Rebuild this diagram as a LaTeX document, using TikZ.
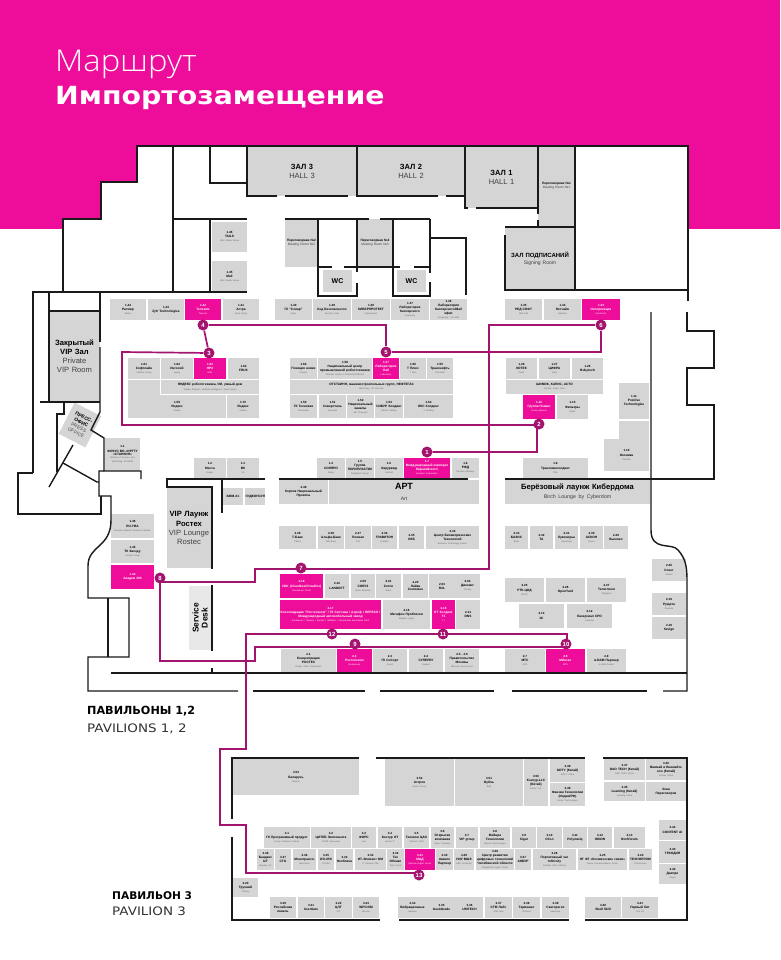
\documentclass[tikz,border=0pt]{standalone}
\usepackage{fontspec}
\setmainfont{Liberation Sans}
\newfontfamily\titlelight{Open Sans Light}
\newfontfamily\titlebold{DejaVu Sans}
\definecolor{brand}{HTML}{EE0C9A}
\definecolor{boothgrey}{HTML}{D5D5D5}
\definecolor{routecol}{HTML}{A3146F}
\definecolor{wallcol}{HTML}{1A1A1A}
\pgfdeclarelayer{routelayer}
\pgfdeclarelayer{toplayer}
\pgfsetlayers{main,routelayer,toplayer}
\tikzset{
  gbox/.style={fill=boothgrey,inner sep=0pt,outer sep=0pt,align=center,text=black},
  pbox/.style={fill=brand,inner sep=0pt,outer sep=0pt,align=center,text=white},
  wall/.style={draw=wallcol,line width=1.4pt,line join=miter},
  route/.style={draw=routecol,line width=1.7pt,line join=miter},
  stopdot/.style={circle,fill=routecol,text=white,inner sep=0pt,minimum size=11pt,font=\bfseries\fontsize{6}{6}\selectfont},
}
\newcommand\bnum{\bfseries\fontsize{3}{3.7}\selectfont}
\newcommand\bname{\bfseries\fontsize{3.2}{3.7}\selectfont}
\newcommand\bsub{\mdseries\fontsize{2.2}{2.8}\selectfont\color{.!60!white}}
% #1 style #2 node name #3-#6 x1 y1 x2 y2 #7 number #8 title #9 note
\newcommand\booth[9][gbox]{%
  \node[#1,font=\fontsize{3.2}{3.7}\selectfont,minimum width={(#5-#3)*1pt},minimum height={(#6-#4)*1pt},text width={(#5-#3-1)*1pt}]
    (#2) at ({(#3+#5)/2},{(#4+#6)/2})
    {\if\relax\detokenize{#7}\relax\else\bnum #7\\[0.4pt]\fi\bname #8\if\relax\detokenize{#9}\relax\else\\[0.4pt]\bsub #9\fi};}
% #1 node name #2-#5 x1 y1 x2 y2 #6 bold text #7 regular text #8 size
\newcommand\bighall[8]{%
  \pgfmathsetmacro\halllead{#8*1.2}%
  \node[gbox,font={\fontsize{#8}{\halllead}\selectfont},minimum width={(#4-#2)*1pt},minimum height={(#5-#3)*1pt},text width={(#4-#2-1)*1pt}]
    (#1) at ({(#2+#4)/2},{(#3+#5)/2})
    {\bfseries #6\\\mdseries\color{black!75} #7};}
\begin{document}
\begin{tikzpicture}[x=1pt,y=-1pt]
\useasboundingbox (0,0) rectangle (780,960);
\fill[white] (0,0) rectangle (780,960);
\fill[brand] (0,0) rectangle (780,229);
\fill[white] (63,229) -- (63,219) -- (101,219) -- (101,182) -- (137,182) -- (137,146) -- (688,146) -- (688,229) -- cycle;

% title
\node[anchor=base west,inner sep=0pt,text=white] (title1) at (55,72) {\scalebox{1.09}[1]{\titlelight\fontsize{30}{30}\selectfont Маршрут}};
\node[anchor=base west,inner sep=0pt,text=white] (title2) at (55,105) {\scalebox{1.134}[1]{\titlebold\bfseries\fontsize{25}{26}\selectfont Импортозамещение}};

% halls
\bighall{h3}{247}{146}{357}{196}{ЗАЛ 3}{HALL 3}{7.5}
\bighall{h2}{357}{146}{465}{196}{ЗАЛ 2}{HALL 2}{7.5}
\bighall{h1}{465}{146}{538}{208}{ЗАЛ 1}{HALL 1}{7.5}
\bighall{m1}{538}{146}{575}{226}{Переговорная №1}{Meeting Room №1}{3.2}
\bighall{sign}{505}{227}{575}{290}{ЗАЛ ПОДПИСАНИЙ}{\fontsize{5}{6.5}\selectfont Signing Room}{6}
\bighall{m2}{285}{219}{318}{267}{Переговорная №2}{Meeting Room №2}{3.2}
\bighall{m3}{357}{219}{393}{267}{Переговорная №3}{Meeting Room №3}{3.2}
\node[gbox,minimum width=29pt,minimum height=22pt,font=\bfseries\fontsize{7}{8}\selectfont] (wc1) at (337.5,281) {WC};
\node[gbox,minimum width=29pt,minimum height=22pt,font=\bfseries\fontsize{7}{8}\selectfont] (wc2) at (411.5,281) {WC};
\bighall{vipclosed}{49}{311}{100}{402}{Закрытый\\VIP Зал}{Private\\VIP Room}{7.6}
\bighall{viplounge}{167}{488}{211}{568}{VIP Лаунж\\Ростех}{VIP Lounge\\Rostec}{7.6}
\node[fill=black!9,inner sep=0pt,minimum width=22pt,minimum height=64pt] (sdesk) at (200,618) {};
\node[rotate=90,align=center,font=\bfseries\fontsize{8.4}{9}\selectfont] (sdesktxt) at (200,618) {Service\\Desk};
\node[gbox,rotate=-27,minimum width=30pt,minimum height=35pt,font=\fontsize{4.9}{5.8}\selectfont] (press) at (80,425)
  {\bfseries ПРЕСС-\\\bfseries ОФИС\\\mdseries\color{black!70} PRESS\\\mdseries\color{black!70} OFFICE};

% booths top-left
\booth{b146}{212}{222}{247}{252}{1.46}{TAILS}{VMK Media Group}
\booth{b145}{212}{261}{247}{292}{1.45}{Mail}{VMK Media Group}
\booth{b144}{110}{299}{146}{320}{1.44}{Ратмир}{Ratmir}
\booth{b143}{148}{299}{184}{320}{1.43}{Zyfr Technologies}{}
\booth[pbox]{b142}{185}{299}{221}{320}{1.42}{Телеком}{Telecom}
\booth{b141}{223}{299}{259}{320}{1.41}{Астра}{Astra Group}
\booth{b140}{275}{299}{312}{320}{1.40}{ГК "Солар"}{Solar}
\booth{b139}{313}{299}{351}{320}{1.39}{Код Безопасности}{Security Code}
\booth{b138}{352}{299}{390}{320}{1.38}{КИБЕРПРОТЕКТ}{Cyberprotect}
\booth{b137}{391}{299}{429}{320}{1.37}{Лаборатория\\Касперского}{Kaspersky}
\booth{b136}{430}{299}{467}{320}{1.36}{Лаборатория\\Касперского/Mail\\офис}{Kaspersky / VK Mail}
\booth{b135}{505}{299}{542}{320}{1.35}{РЕД СОФТ}{Red Soft}
\booth{b134}{544}{299}{581}{320}{1.34}{Нетчайн}{Netchain}
\booth[pbox]{b133}{582}{299}{620}{320}{1.33}{Интерлекция}{Interlection}

% block A
\booth{b161}{128}{358}{160}{379}{1.61}{Софтлайн}{Softline Group}
\booth{b162}{161}{358}{193}{379}{1.62}{Ингосий}{Ingosy}
\booth[pbox]{b163}{194}{358}{226}{379}{1.63}{НРЗ}{NRZ}
\booth{b164}{228}{358}{259}{379}{1.64}{FRUX}{}
\fill[boothgrey] (128,380) rectangle (160,395);
\booth{yan1}{161}{380}{259}{394}{}{ЯНДЕКС робототехника, ИИ, умный дом}{Yandex Robotics, Artificial Intelligence, Smart Home}
\booth{b159}{128}{395}{226}{418}{1.59}{Яндекс}{Yandex}
\booth{b170}{227}{395}{259}{418}{1.70}{Яндекс}{Yandex}

% block B
\booth{b160}{290}{358}{317}{379}{1.60}{Позиция новиз}{Position}
\booth{b158}{318}{358}{372}{379}{1.58}{Национальный центр\\промышленной робототехники}{National Center of Industrial Robotics}
\booth[pbox]{b157}{373}{358}{399}{379}{1.57}{Лаборатория\\Лаб}{Laboratory}
\booth{b156}{400}{358}{426}{379}{1.56}{Т Плюс}{T Plus}
\booth{b155}{427}{358}{453}{379}{1.55}{Транснефть}{Transneft}
\booth{otr}{290}{380}{453}{394}{}{ОТСТАИНН, машиностроительных групп, НЕФТЕГАЗ}{Machinery, Oil and Gas}
\booth{b150}{290}{395}{317}{418}{1.50}{ГК Техновек}{Technovek}
\booth{b151}{319}{395}{346}{418}{1.51}{Северсталь}{Severstal}
\booth{b152}{347}{395}{374}{418}{1.52}{Национальный\\каналы}{Net Channels}
\booth{b153}{375}{395}{403}{418}{1.53}{СИБУР Холдинг}{SIBUR Holding}
\booth{b154}{404}{395}{453}{418}{1.54}{ИКС Холдинг}{X Holding}

% block C
\booth{b128}{506}{358}{537}{379}{1.28}{КОТЕК}{Kotek}
\booth{b127}{539}{358}{570}{379}{1.27}{ЦИФРА}{Zyfra}
\booth{b126}{572}{358}{603}{379}{1.26}{Rubytech}{}
\booth{shim}{506}{380}{603}{394}{}{ШИМОК, КАПИС, АСТО}{Shimok, Kapis, Asto}
\booth[pbox]{b116}{523}{395}{555}{419}{1.16}{Группа Нэшнл}{Group National}
\booth{b115}{557}{395}{588}{419}{1.15}{Фильтры}{Filters}
\booth{b19}{523}{458}{588}{478}{1.9}{Трансмашхолдинг}{TMH}
\booth{b111}{619}{383}{649}{419}{1.11}{Positive\\Technologies}{}
\fill[boothgrey] (619,421) rectangle (649,439);
\booth{b110}{604}{439}{649}{471}{1.10}{Оконика}{Okonika}

% row 1.x
\booth{b1}{105}{438}{140}{471}{1.1}{ФОКУС ВО «ИРГТУ\\«СТАНКИН»}{Ministry of Science and\\Technology STANKIN}
\booth{b12}{194}{458}{226}{478}{1.2}{Мечта}{Dream}
\booth{b13}{227}{458}{259}{478}{1.3}{ВК}{VK}
\booth{b14}{317}{458}{345}{478}{1.4}{СОЛЯРО}{Solaro}
\booth{b15}{346}{458}{374}{478}{1.5}{Группа\\ПОЛИПЛАСТИК}{Polyplastic Group}
\booth{b16}{375}{458}{403}{478}{1.6}{Хирурвид}{Hirurvid}
\booth[pbox]{b17}{404}{458}{450}{478}{1.7}{Международный корпорат\\Евразийского}{Eurasian Corporation}
\booth{b18}{452}{458}{479}{478}{1.8}{РЖД}{Russian Railways}
\booth{b249}{279}{480}{328}{504}{2.49}{Кортеж Национальный\\Проекты}{}
\bighall{art}{329}{480}{479}{504}{АРТ}{\fontsize{5}{6.5}\selectfont Art}{9}
\bighall{birch}{505}{480}{650}{504}{Берёзовый лаунж Кибердома}{\fontsize{5.3}{6.8}\selectfont Birch Lounge by Cyberdom}{7.6}
\booth{bmm}{223}{488}{243}{505}{}{БММ-Х1}{}
\booth{gid}{245}{488}{265}{505}{}{ГИДКОНСУЛ}{}

\booth{b146b}{111}{514}{154}{538}{1.46}{RU-YBA}{Russian Federal Research Institute}
\booth{b145b}{111}{540}{154}{563}{1.45}{ТК Звезду}{Zvezda Group}
\booth[pbox]{b144b}{111}{565}{154}{589}{1.44}{Академ 300}{}

% row 2.3x
\booth{b239}{279}{526}{316}{549}{2.39}{Т-Банк}{T-Bank}
\booth{b238}{318}{526}{344}{549}{2.38}{Альфа-Банк}{Alfa Bank}
\booth{b237}{345}{526}{371}{549}{2.37}{Полная}{Full}
\booth{b236}{372}{526}{397}{549}{2.36}{ГРАВИТОН}{Graviton}
\booth{b235}{399}{526}{424}{549}{2.35}{ОКБ}{}
\booth{b234}{426}{526}{479}{549}{2.34}{Центр Биометрических\\Технологий}{Biometric Technology Center}
\booth{b233}{505}{526}{528}{549}{2.33}{БАЗИС}{Basis}
\booth{b232}{530}{526}{553}{549}{2.32}{ТА}{}
\booth{b231}{555}{526}{578}{549}{2.31}{Лукоморье}{Lukomorye}
\booth{b230}{580}{526}{603}{549}{2.30}{АСКОН}{Ascon}
\booth{b229}{604}{526}{628}{549}{2.29}{Вымпел}{}
% row 2.0x
\booth[pbox]{b218}{280}{574}{323}{598}{2.18}{VGK (Cloudbex/Cloudfox)}{Rostelecom Cloud}
\booth{b216}{325}{574}{349}{598}{2.10}{LANDOFT}{}
\booth{b209}{351}{574}{375}{598}{2.09}{СОЛУЗ}{Soluz Solutions}
\booth{b201}{376}{574}{401}{598}{2.01}{Сетсн}{Setsn}
\booth{b220}{403}{574}{428}{598}{2.20}{Лайка\\Солюшнз}{}
\booth{b203}{429}{574}{455}{598}{2.03}{R2L}{}
\booth{b204}{455}{574}{480}{598}{2.04}{Дикоинг}{Dicoing}
\booth[pbox]{b217}{280}{600}{381}{629}{2.17}{Консолидация "Ростелеком" / ГК Систэма / Аэроф / НЕРЕАЛ /\\Международный автомобильный завод}{Rostelecom / Sistema / Aeroflot / NEREAL / International Automobile Plant}
\booth{b215}{383}{600}{430}{629}{2.16}{Мегафон Проблески}{Megafon Lights}
\booth[pbox]{b2t}{432}{600}{455}{629}{2.15}{ИТ Холдинг\\Т1}{T1}
\booth{b214}{456}{600}{480}{629}{2.14}{DNS}{}
\booth{b225}{505}{578}{544}{602}{2.25}{РТК-ЦОД}{RT-DC}
\booth{b226}{546}{578}{585}{602}{2.26}{OpenYard}{}
\booth{b227}{587}{578}{626}{602}{2.27}{Телеглиом}{Teleglyom}
\booth{b213}{519}{604}{564}{628}{2.13}{1С}{}
\booth{b212}{567}{604}{612}{628}{2.12}{Лазерсиал СРО}{Lazersial}
\booth{b220r}{652}{559}{686}{581}{2.20}{Сокет}{Socket}
\booth{b219}{652}{593}{686}{615}{2.19}{Рущита}{Rusheta}
\booth{b218r}{652}{617}{686}{639}{2.18}{Sevign}{}
% row 2.1-2.9
\booth{b21}{281}{649}{336}{672}{2.1}{Концентрация\\РОСТЕХ}{Rostec State Corporation}
\booth[pbox]{b22}{337}{649}{372}{672}{2.2}{Ростелеком}{Rostelecom}
\booth{b23}{373}{649}{407}{672}{2.3}{ГК СоСорт}{Sosort}
\booth{b24}{409}{649}{443}{672}{2.4}{СУПЕРЛУ}{Superlu}
\booth{b25}{445}{649}{479}{672}{2.5 - 2.6}{Правительство\\Москвы}{Moscow Government}
\booth{b27}{505}{649}{545}{672}{2.7}{МТС}{MTS}
\booth[pbox]{b28}{546}{649}{585}{672}{2.8}{МИнгал}{MTS}
\booth{b29}{587}{649}{626}{672}{2.9}{А-ВАМ Партнер}{A-VAM Partner}

% pavilion 3
\booth{c53}{233}{759}{359}{795}{3.53}{Беларусь}{Belarus}
\booth{c52}{385}{759}{454}{806}{3.52}{Астрон}{Astron Group}
\booth{c51}{455}{759}{523}{806}{3.51}{Бубль}{Bubl}
\booth{c50}{524}{759}{548}{806}{3.50}{Контур.LLC\\(Китай)}{Kontur LLC}
\booth{c49}{550}{759}{585}{782}{3.49}{GOTY (Китай)}{GOTY China}
\booth{c48}{550}{783}{585}{806}{3.48}{Фанзин Технологии\\(Индия/РФ)}{Fanzin Technologies}
\booth{c47}{604}{759}{645}{780}{3.47}{DAO TECH (Китай)}{DAO TECH China}
\booth{c46}{646}{759}{686}{780}{3.46}{Внимай и Внимайте\\ooo (Китай)}{Vnimay China}
\booth{c45}{604}{782}{645}{801}{3.45}{Learning (Китай)}{Learning China}
\booth{czone}{646}{782}{686}{801}{}{Зона\\Переговоров}{}
\booth{c44}{659}{820}{686}{840}{3.44}{CONTENT AI}{}
\booth{c43}{659}{841}{686}{863}{3.43}{ТРАНДИЯ}{}
\booth{c42}{659}{864}{686}{884}{3.42}{Днепро}{Dnepr}
\booth{d1}{264}{827}{310}{848}{3.1}{ГК Программный продукт}{Group Software Product}
\booth{d2}{311}{827}{351}{848}{3.2}{ЦИТЕБ Экспонента}{CITEB Exponenta}
\booth{d3}{352}{827}{376}{848}{3.3}{ФОРС}{Fors}
\booth{d4}{378}{827}{402}{848}{3.4}{Контур ИТ}{Kontur IT}
\booth{d5}{404}{827}{429}{848}{3.5}{Телеком ЦАО}{Telecom CAO}
\booth{d6}{431}{827}{454}{848}{3.6}{Открытая\\компания}{Open Company}
\booth{d7}{456}{827}{478}{848}{3.7}{VIP group}{}
\booth{d8}{480}{827}{510}{848}{3.8}{Мейнра\\Технологии}{Meynra Technologies}
\booth{d9}{512}{827}{536}{848}{3.9}{Sigur}{}
\booth{d10}{537}{827}{562}{848}{3.10}{Сбол}{}
\booth{d11}{563}{827}{587}{848}{3.11}{Polymatiq}{}
\booth{d12}{588}{827}{612}{848}{3.12}{OBION}{}
\booth{d13}{614}{827}{645}{848}{3.13}{NtoSforum}{}
\booth{e39}{257}{849}{274}{870}{3.38}{Бандекс\\IoT}{Bandex IoT}
\booth{e37}{275}{849}{291}{870}{3.37}{CTG}{}
\booth{e36}{293}{849}{316}{870}{3.36}{Монотрансп.}{Monotrans}
\booth{e35}{318}{849}{334}{870}{3.35}{ИО-Х56}{IO-X56}
\booth{e34}{336}{849}{353}{870}{3.34}{Необлачн}{}
\booth{e33}{355}{849}{386}{870}{3.33}{ИТ-Элемент ОМ}{IT Element OM}
\booth{e32}{387}{849}{404}{870}{3.32}{Тех\\Облако}{Tech Cloud}
\booth[pbox]{e31}{405}{849}{435}{870}{3.31}{МЦД}{Moscow Digital Center}
\booth{e30}{436}{849}{453}{870}{3.30}{Авиаго\\Партнер}{}
\booth{e29}{454}{849}{474}{870}{3.29}{НИУ ВШЭ}{HSE University}
\booth{e28}{476}{849}{514}{870}{3.28}{Центр развития\\цифровых технологий\\Челябинской области}{Chelyabinsk Digital Center}
\booth{e27}{515}{849}{531}{870}{3.27}{АНБУР}{}
\booth{e26}{533}{849}{576}{870}{3.26}{Портативный чат\\Infinicity}{Portable Chat Infinicity}
\booth{e25}{578}{849}{627}{870}{3.25}{НГ ФТ «Космические связи»}{Space Communications Group}
\booth{e24}{629}{849}{652}{870}{3.24}{ТЕХНОПРОМ}{Technoprom}
\booth{f20}{233}{878}{258}{897}{3.20}{Трухний}{Trukhny}
\booth{f39}{270}{897}{296}{918}{3.39}{Российская\\панель}{}
\booth{f21}{298}{897}{324}{918}{3.21}{UserGate}{}
\booth{f22}{325}{897}{352}{918}{3.22}{ЦЛТ}{CLT}
\booth{f23}{353}{897}{379}{918}{3.23}{WIYCOM}{Wiycom}
\booth{f24}{398}{897}{427}{918}{3.34}{Вибрационные}{Vibration}
\booth{f25}{427}{897}{456}{918}{3.35}{GeekGrade}{}
\booth{f26}{456}{897}{483}{918}{3.36}{UBITECH}{}
\booth{f37}{485}{897}{512}{918}{3.37}{СТМ Лабс}{STM Labs}
\booth{f38}{513}{897}{540}{918}{3.38}{Терминал}{Terminal}
\booth{f39b}{542}{897}{569}{918}{3.39}{Скатлрегис}{Skatlregis}
\booth{f40}{585}{897}{621}{918}{3.40}{Skull Skill}{}
\booth{f41}{622}{897}{658}{918}{3.41}{Первый бит}{First Bit}

% walls, upper part
\draw[wall] (33,473) -- (33,292) -- (247,292);
\draw[wall] (63,292) -- (63,219) -- (101,219) -- (101,182) -- (137,182) -- (137,146) -- (688,146) -- (688,301);
\draw[wall] (173,146) -- (173,292);
\draw[wall] (173,219) -- (247,219);
\draw[wall] (210,219) -- (210,292);
\draw[wall] (210,146) -- (210,183) -- (247,183);
\draw[wall] (277,196) -- (247,196) -- (247,146);
\draw[wall] (285,196) -- (348,196);
\draw[wall] (357,146) -- (357,196) -- (438,196);
\draw[wall] (446,196) -- (465,196);
\draw[wall] (465,146) -- (465,208) -- (468,208);
\draw[wall] (476,208) -- (538,208);
\draw[wall] (538,146) -- (538,214);
\draw[wall] (538,220) -- (538,227);
\draw[wall] (575,146) -- (575,290);
\draw[wall] (505,227) -- (575,227);
\draw[wall] (505,235) -- (505,290) -- (688,290);
\draw[wall] (285,219) -- (369,219);
\draw[wall] (380,219) -- (430,219);
\draw[wall] (318,219) -- (318,296) -- (357,296) -- (357,283);
\draw[wall] (357,219) -- (357,272);
\draw[wall] (318,267) -- (332,267);
\draw[wall] (344,267) -- (393,267);
\draw[wall] (393,219) -- (393,296) -- (430,296) -- (430,282);
\draw[wall] (393,267) -- (400,267);
\draw[wall] (414,267) -- (430,267);
\draw[wall] (430,219) -- (430,273);
\draw[wall] (430,238) -- (466,238) -- (466,295);
% left part
\draw[wall] (49,292) -- (49,402);
\draw[wall] (49,311) -- (100,311);
\draw[wall] (40,402) -- (100,402);
\draw[wall] (100,292) -- (100,342);
\draw[wall] (100,347) -- (100,412) -- (91,430) -- (104,438) -- (104,471) -- (141,471) -- (141,479);
\draw[wall] (64,402) -- (64,414) -- (57,414) -- (57,472);
\draw[wall] (73,445) -- (49,487);
\draw[wall] (63,463) -- (97,482) -- (99,482);
\draw[wall] (104,471) -- (99,471) -- (99,496) -- (111,496) -- (111,520) .. controls (111,548) and (88,545) .. (88,566) -- (88,598) -- (129,598) -- (129,657) -- (88,657) -- (88,691) -- (238,691);
\draw[wall] (108,598) -- (108,657);
\draw[wall] (33,473) -- (18,473) -- (18,514) -- (101,514) -- (101,496);
% centre
\draw[wall] (265,479) -- (167,479) -- (167,487) -- (212,487) -- (212,569);
\draw[wall] (212,585) -- (212,651);
\draw[wall] (212,668) -- (212,673);
\draw[wall] (222,479) -- (222,513);
\draw[wall] (279,479) -- (468,479);
\draw[wall] (505,479) -- (714,479) -- (714,405) -- (687,405) -- (687,368) -- (714,368) -- (714,331) -- (687,331) -- (687,312);
\draw[wall] (651,312) -- (651,530) .. controls (651,552) and (672,542) .. (678,550) .. controls (685,558) and (687,565) .. (687,580) -- (687,691) -- (663,691);
\draw[wall] (111,673) -- (687,673);
\draw[wall] (253,691) -- (365,691);
\draw[wall] (380,691) -- (494,691);
\draw[wall] (512,691) -- (647,691);
% pavilion 3
\draw[wall] (359,758) -- (232,758) -- (232,819);
\draw[wall] (232,837) -- (232,920) -- (380,920);
\draw[wall] (376,758) -- (585,758);
\draw[wall] (603,758) -- (687,758) -- (687,920) -- (585,920);
\draw[wall] (399,920) -- (569,920);

% labels
\node[anchor=base west,inner sep=0pt] (pav12a) at (87,714) {\titlebold\bfseries\fontsize{11.2}{12}\selectfont ПАВИЛЬОНЫ 1,2};
\node[anchor=base west,inner sep=0pt,text=black!80] (pav12b) at (87,732) {\scalebox{1.15}[1]{\titlebold\fontsize{11.7}{12}\selectfont PAVILIONS 1, 2}};
\node[anchor=base west,inner sep=0pt] (pav3a) at (112,899) {\titlebold\bfseries\fontsize{10.6}{12}\selectfont ПАВИЛЬОН 3};
\node[anchor=base west,inner sep=0pt,text=black!80] (pav3b) at (112,915) {\scalebox{1.15}[1]{\titlebold\fontsize{11.7}{12}\selectfont PAVILION 3}};

% route stops
\begin{pgfonlayer}{toplayer}
\node[stopdot] (s1) at (427,452) {1};
\node[stopdot] (s2) at (539,424) {2};
\node[stopdot] (s3) at (209,353) {3};
\node[stopdot] (s4) at (203,325) {4};
\node[stopdot] (s5) at (386,352) {5};
\node[stopdot] (s6) at (601,325) {6};
\node[stopdot] (s7) at (301,568) {7};
\node[stopdot] (s8) at (160,578) {8};
\node[stopdot] (s9) at (355,644) {9};
\node[stopdot] (s10) at (566,644) {10};
\node[stopdot] (s11) at (443,634) {11};
\node[stopdot] (s12) at (332,634) {12};
\node[stopdot] (s13) at (419,875) {13};
\end{pgfonlayer}
% route
\coordinate (r1) at (537,452);
\coordinate (r2) at (537,425);
\coordinate (r3) at (122,425);
\coordinate (r4) at (122,352);
\coordinate (r5) at (386,325);
\coordinate (r6) at (601,352);
\coordinate (r7) at (489,325);
\coordinate (r8) at (489,569);
\coordinate (r9) at (255,569);
\coordinate (r10) at (255,582);
\coordinate (r11) at (160,582);
\coordinate (r12) at (160,661);
\coordinate (r13) at (255,661);
\coordinate (r14) at (255,647);
\coordinate (r15) at (567,647);
\coordinate (r16) at (567,634);
\coordinate (r17) at (246,634);
\coordinate (r18) at (246,749);
\coordinate (r19) at (220,749);
\coordinate (r20) at (220,825);
\coordinate (r21) at (246,825);
\coordinate (r22) at (246,873);
\coordinate (r23) at (419,873);
\begin{pgfonlayer}{routelayer}
\draw[route] (s1) -- (r1) -- (r2) -- (s2);
\draw[route] (r2) -- (r3) -- (r4) -- (s3);
\draw[route] (s3) -- (s4);
\draw[route] (s4) -- (r5) -- (s5);
\draw[route] (s5) -- (r6) -- (s6);
\draw[route] (s6) -- (r7) -- (r8) -- (r9) -- (r10) -- (r11);
\draw[route] (r11) -- (r12) -- (r13) -- (r14) -- (r15) -- (r16) -- (r17) -- (r18) -- (r19) -- (r20) -- (r21) -- (r22) -- (r23);
\end{pgfonlayer}
\end{tikzpicture}
\end{document}
